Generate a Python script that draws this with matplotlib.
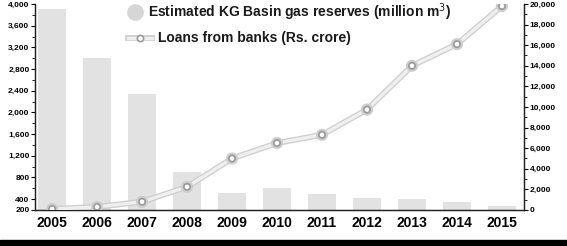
import matplotlib
matplotlib.use("Agg")
import matplotlib.pyplot as plt
import matplotlib.patheffects as pe
from matplotlib.lines import Line2D
from matplotlib.patches import Rectangle
import numpy as np

years = ["2005", "2006", "2007", "2008", "2009", "2010", "2011", "2012", "2013", "2014", "2015"]
gas_reserves = [3900, 3000, 2340, 900, 510, 600, 500, 420, 400, 350, 270]
bank_loans = [100, 300, 800, 2250, 5000, 6500, 7300, 9750, 14000, 16100, 19800]

left_ticks = [200, 400, 800, 1200, 1600, 2000, 2400, 2800, 3200, 3600, 4000]
right_ticks = [0, 2000, 4000, 6000, 8000, 10000, 12000, 14000, 16000, 18000, 20000]

plt.rcParams["font.family"] = ["Liberation Sans", "DejaVu Sans"]

fig = plt.figure(figsize=(5.67, 2.46), dpi=100)
W, H = 567, 246
ax = fig.add_axes([35 / W, 36 / H, (524 - 35) / W, (242 - 36) / H])
ax2 = ax.twinx()

x = np.arange(len(years))
ax.bar(x, gas_reserves, width=0.62, color="#e2e2e2", zorder=1)
ax.set_ylim(200, 4000)
ax.set_xlim(-0.38, 10.49)
ax.set_yticks(left_ticks)
ax.set_yticklabels([f"{v:,}" for v in left_ticks])
ax.set_yticks(np.arange(200, 4001, 200), minor=True)
ax.set_xticks(x)
ax.set_xticklabels(years)
ax.tick_params(axis="x", length=0, pad=4, labelsize=10)
ax.tick_params(axis="y", which="major", length=3, width=0.8, pad=1, labelsize=6)
ax.tick_params(axis="y", which="minor", length=2, width=0.6)
for lab in ax.get_xticklabels() + ax.get_yticklabels():
    lab.set_fontweight("bold")

line_fx = [pe.Stroke(linewidth=4.2, foreground="#cdcdcd"), pe.Normal()]
ax2.plot(x, bank_loans, color="#efefef", lw=2.4, zorder=3,
         marker="o", markersize=4.5, markerfacecolor="white",
         markeredgecolor="#999999", markeredgewidth=1.2,
         path_effects=line_fx)
ax2.set_ylim(0, 20000)
ax2.set_yticks(right_ticks)
ax2.set_yticklabels([f"{v:,}" for v in right_ticks])
ax2.set_yticks(np.arange(0, 20001, 1000), minor=True)
ax2.tick_params(axis="y", which="major", length=3, width=0.8, pad=1, labelsize=6)
ax2.tick_params(axis="y", which="minor", length=2, width=0.6)
for lab in ax2.get_yticklabels():
    lab.set_fontweight("bold")

for a in (ax, ax2):
    a.spines["top"].set_visible(False)
    for s in ("left", "right", "bottom"):
        a.spines[s].set_color("#222222")
        a.spines[s].set_linewidth(0.9)

# legend drawn by hand
fig.add_artist(Line2D([135 / W], [1 - 12 / H], marker="o", markersize=11,
                      color="#d6d6d6", transform=fig.transFigure))
fig.text(148 / W, 1 - 12 / H, "Estimated KG Basin gas reserves (million m$^3$)",
         fontsize=10, fontweight="bold", va="center", ha="left", color="#1a1a1a")
fig.add_artist(Line2D([128 / W, 152 / W], [1 - 38 / H, 1 - 38 / H], color="#efefef",
                      lw=2.4, transform=fig.transFigure, path_effects=line_fx))
fig.add_artist(Line2D([140 / W], [1 - 38 / H], marker="o", markersize=4.5,
                      markerfacecolor="white", markeredgecolor="#999999",
                      markeredgewidth=1.2, transform=fig.transFigure))
fig.text(158 / W, 1 - 38 / H, "Loans from banks (Rs. crore)",
         fontsize=10, fontweight="bold", va="center", ha="left", color="#1a1a1a")

fig.add_artist(Rectangle((0, 0), 1, 6 / H, color="black", transform=fig.transFigure))

fig.savefig("out.png", dpi=100)
